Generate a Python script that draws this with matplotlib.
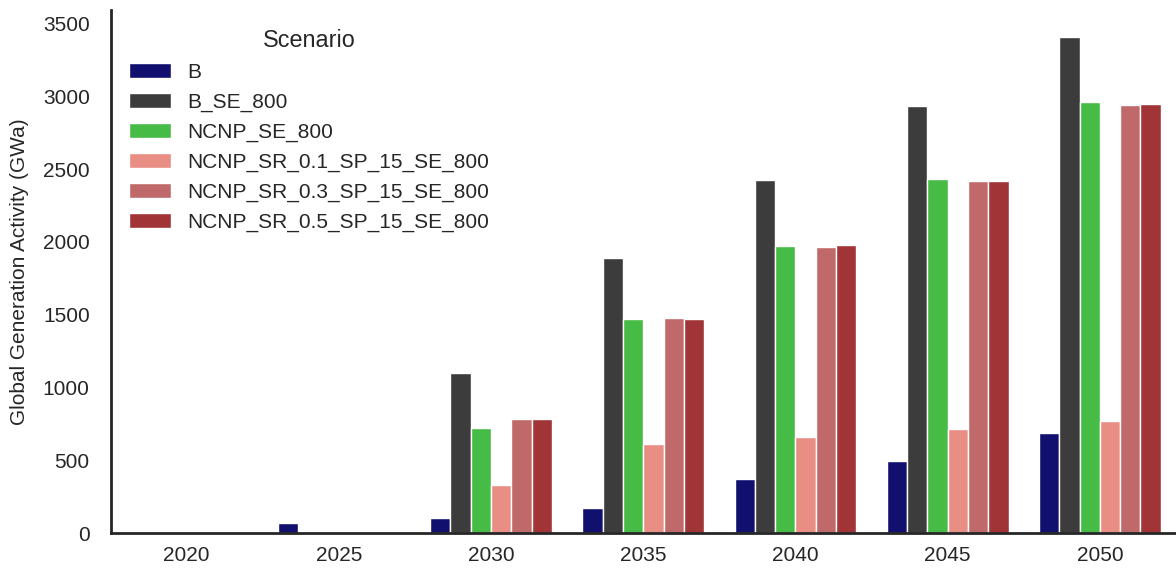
import matplotlib
matplotlib.use("Agg")
import matplotlib.pyplot as plt
import numpy as np

# Data (GWa)
years = ["2020", "2025", "2030", "2035", "2040", "2045", "2050"]
scenarios = ["B", "B_SE_800", "NCNP_SE_800", "NCNP_SR_0.1_SP_15_SE_800",
             "NCNP_SR_0.3_SP_15_SE_800", "NCNP_SR_0.5_SP_15_SE_800"]
b_vals = [0, 67, 101, 172, 373, 497, 685]
b_se_vals = [0, 0, 1100, 1888, 2424, 2932, 3407]
ncnp_se_vals = [0, 0, 720, 1473, 1970, 2433, 2960]
sr01_vals = [0, 0, 328, 612, 662, 715, 770]
sr03_vals = [0, 0, 781, 1475, 1968, 2417, 2939]
sr05_vals = [0, 0, 781, 1469, 1977, 2421, 2944]
colors = ["#12106e", "#3c3c3c", "#46bb46", "#e88e84", "#c0696a", "#a13436"]

series = [b_vals, b_se_vals, ncnp_se_vals, sr01_vals, sr03_vals, sr05_vals]

plt.rcParams['font.family'] = ['Liberation Sans', 'DejaVu Sans']
text_col = "#262626"

fig = plt.figure(figsize=(11.76, 5.72), dpi=100)
ax = fig.add_axes([0.094, 0.068, 0.906, 0.914])

# grouped bars, one offset per scenario
x = np.arange(len(years))
n = len(scenarios)
width = 0.8 / n
for i, (name, vals) in enumerate(zip(scenarios, series)):
    offs = (i - (n - 1) / 2) * width
    ax.bar(x + offs, vals, width=width, color=colors[i], edgecolor="white",
           linewidth=1, label=name)

ax.set_xlim(-0.5, len(years) - 0.5)
ax.set_ylim(0, 3590)
ax.set_xticks(x)
ax.set_xticklabels(years)
ax.set_yticks(np.arange(0, 3501, 500))

ax.spines['top'].set_visible(False)
ax.spines['right'].set_visible(False)
for s in ['left', 'bottom']:
    ax.spines[s].set_linewidth(2)
    ax.spines[s].set_color(text_col)

ax.tick_params(axis='y', length=0, pad=15, labelsize=15, labelcolor=text_col)
ax.tick_params(axis='x', length=0, pad=9, labelsize=15, labelcolor=text_col)
ax.set_ylabel("Global Generation Activity (GWa)", fontsize=15, color=text_col,
              labelpad=10)

leg = ax.legend(title="Scenario", loc="upper left", frameon=False, fontsize=15,
                title_fontsize=16.8, labelspacing=0.52)
for t in leg.get_texts():
    t.set_color(text_col)
leg.get_title().set_color(text_col)

fig.savefig("out.png", dpi=100)
